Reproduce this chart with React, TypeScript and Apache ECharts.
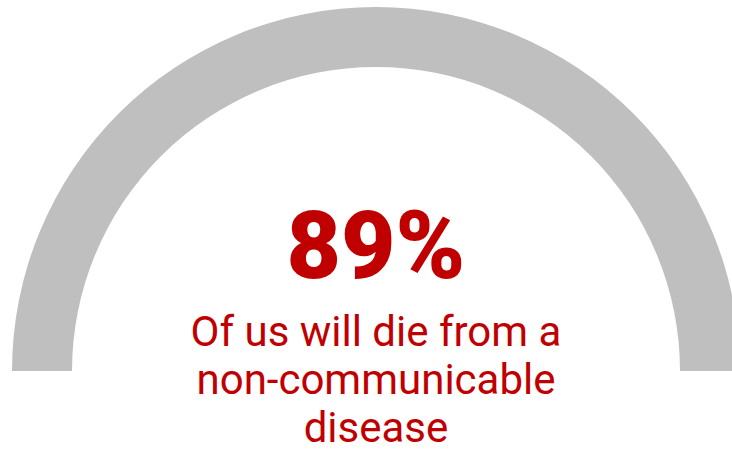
import React, { useEffect, useRef } from "react";
import * as echarts from "echarts";

const gaugeValue = 89;
const gaugeMax = 100;
const caption = "Of us will die from a\nnon-communicable\ndisease";

export default function App() {
  const ref = useRef<HTMLDivElement>(null);
  useEffect(() => {
    if (!ref.current) return;
    const chart = echarts.init(ref.current, undefined, { renderer: "svg" });
    chart.setOption({
      animation: false,
      backgroundColor: "#ffffff",
      series: [
        {
          type: "gauge",
          center: [376, 371],
          radius: 364,
          startAngle: 180,
          endAngle: 0,
          min: 0,
          max: gaugeMax,
          axisLine: { roundCap: false, lineStyle: { width: 60, color: [[1, "#bfbfbf"]] } },
          progress: { show: false },
          pointer: { show: false },
          axisTick: { show: false },
          splitLine: { show: false },
          axisLabel: { show: false },
          anchor: { show: false },
          title: {
            show: true,
            offsetCenter: [0, 8],
            color: "#c00000",
            fontFamily: "Roboto",
            fontSize: 42,
            lineHeight: 48,
          },
          detail: {
            show: true,
            offsetCenter: [0, -125],
            formatter: "{value}%",
            color: "#c00000",
            fontFamily: "Roboto",
            fontWeight: 900,
            fontSize: 94,
          },
          data: [{ value: gaugeValue, name: caption }],
        },
      ],
    });
    return () => chart.dispose();
  }, []);
  return <div ref={ref} style={{ width: 732, height: 452, position: "absolute", left: 0, top: 0 }} />;
}
